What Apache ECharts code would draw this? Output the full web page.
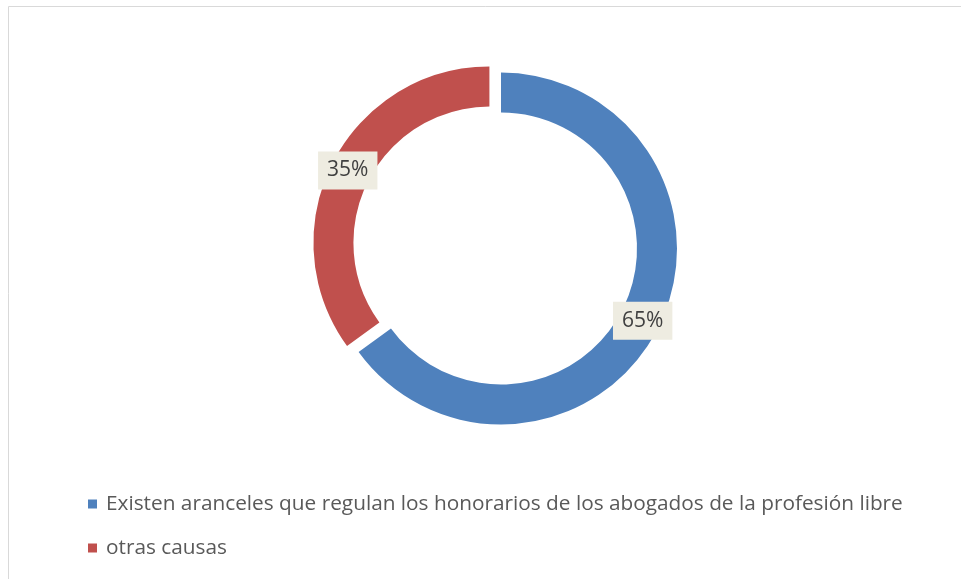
<!DOCTYPE html>
<html>
<head>
<meta charset="utf-8">
<script src="https://cdn.jsdelivr.net/npm/echarts@6/dist/echarts.min.js"></script>
<style>
  html, body { margin: 0; padding: 0; background: #fff; }
  #chart { width: 961px; height: 579px; }
</style>
</head>
<body>
<div id="chart"></div>
<script>
const categories = [
  'Existen aranceles que regulan los honorarios de los abogados de la profesión libre',
  'otras causas'
]
const values = [65, 35]
const colors = ['#4f81bd', '#c0504d']

const chart = echarts.init(document.getElementById('chart'))

const option = {
  animation: false,
  color: colors,
  graphic: [
    {
      type: 'rect',
      shape: { x: 8.5, y: 6.5, width: 1000, height: 1000 },
      style: { fill: 'none', stroke: '#d9d9d9', lineWidth: 1 },
      silent: true
    }
  ],
  legend: {
    orient: 'vertical',
    left: 88,
    top: 492,
    padding: 0,
    icon: 'rect',
    itemWidth: 9,
    itemHeight: 9,
    itemGap: 20,
    selectedMode: false,
    textStyle: {
      color: '#595959',
      fontSize: 20.8,
      lineHeight: 24,
      fontFamily: 'Open Sans',
      padding: [0, 0, 0, 4]
    },
    data: categories
  },
  series: [
    {
      type: 'pie',
      center: [501, 248.5],
      radius: [136, 176],
      startAngle: 90,
      clockwise: true,
      selectedMode: 'single',
      selectedOffset: 13,
      emphasis: { disabled: true },
      labelLine: { show: false },
      label: {
        show: true,
        position: 'inside',
        formatter: p => p.value + '%',
        color: '#404040',
        fontSize: 21,
        lineHeight: 20,
        fontFamily: 'Open Sans',
        backgroundColor: '#eeece1',
        padding: [9, 9]
      },
      data: categories.map((name, i) => ({
        name: name,
        value: values[i],
        selected: i === 1
      }))
    }
  ]
}
chart.setOption(option)
</script>
</body>
</html>
